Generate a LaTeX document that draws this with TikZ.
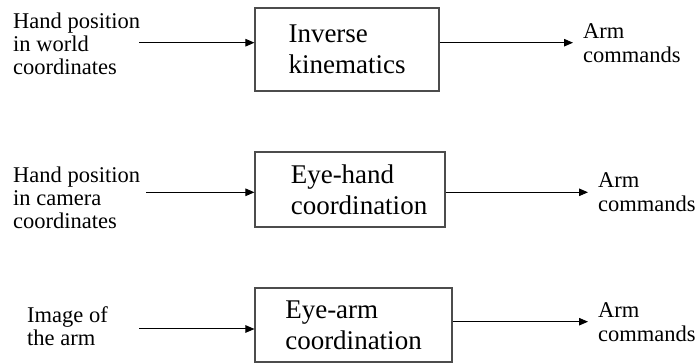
\documentclass[tikz,border=0pt]{standalone}
\usepackage{fontspec}
\setmainfont{Liberation Serif}
\usetikzlibrary{arrows.meta}

\begin{document}
\begin{tikzpicture}[x=1pt,y=1pt,
  blockbox/.style={draw=black!70, line width=1.1pt, inner sep=0pt, align=left,
    font=\fontsize{27}{31}\selectfont},
  intext/.style={anchor=west, inner sep=0pt, align=left,
    font=\fontsize{22.5}{23}\selectfont},
  outtext/.style={anchor=west, inner xsep=10pt, inner ysep=0pt, align=left,
    font=\fontsize{22.5}{24}\selectfont},
  flow/.style={line width=1pt, -{Triangle[length=9pt,width=7.5pt]}}
]
\useasboundingbox (0,0) rectangle (697,364);

% Row 1: inverse kinematics
\node[blockbox, minimum width=184pt, minimum height=83pt] (b1) at (347,314.5)
  {Inverse\\kinematics};
\node[intext] (i1) at (13,320.5) {Hand position\\in world\\coordinates};
\coordinate (s1) at (139,321.3);
\node[outtext] (o1) at (573,321.3) {Arm\\commands};
\draw[flow] (s1) -- (s1 -| b1.west);
\draw[flow] (b1.east |- o1.west) -- (o1.west);

% Row 2: eye-hand coordination
\node[blockbox, minimum width=190pt, minimum height=75pt] (b2) at (350,174.5)
  {\hspace*{18pt}Eye-hand\\\hspace*{18pt}coordination};
\node[intext] (i2) at (13,166) {Hand position\\in camera\\coordinates};
\coordinate (s2) at (146,171.7);
\node[outtext] (o2) at (588,171.7) {Arm\\commands};
\draw[flow] (s2) -- (s2 -| b2.west);
\draw[flow] (b2.east |- o2.west) -- (o2.west);

% Row 3: eye-arm coordination
\node[blockbox, minimum width=197pt, minimum height=74pt] (b3) at (353.5,39)
  {Eye-arm\\coordination};
\node[intext] (i3) at (27,38) {Image of\\the arm};
\coordinate (s3) at (139,35);
\node[outtext] (o3) at (588,42.3) {Arm\\commands};
\draw[flow] (s3) -- (s3 -| b3.west);
\draw[flow] (b3.east |- o3.west) -- (o3.west);
\end{tikzpicture}
\end{document}
